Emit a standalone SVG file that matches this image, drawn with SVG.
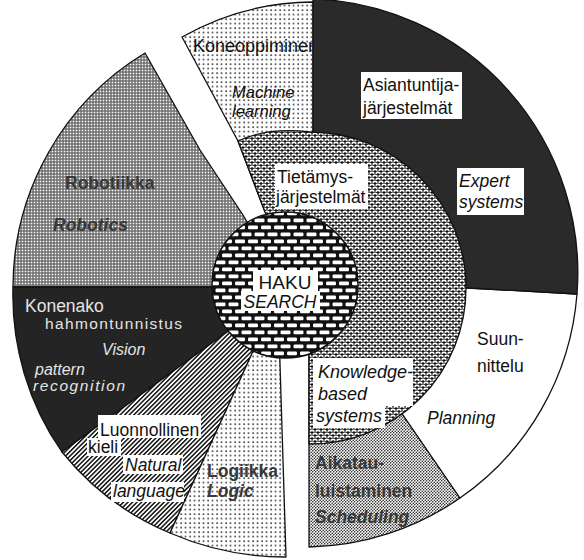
<svg xmlns="http://www.w3.org/2000/svg" width="584" height="560" viewBox="0 0 584 560">
<style>
.sec{stroke:#111;stroke-width:1.3;stroke-linejoin:round}
text{font-family:"Liberation Sans",Arial,Helvetica,sans-serif;font-size:17.5px;fill:#111}
.i{font-style:italic}
.w{fill:#e4e4e4}
.g{fill:#383838;font-weight:bold}
.box{fill:#fff}
</style>
<defs>
<pattern id="pDots" width="4.5" height="4.5" patternUnits="userSpaceOnUse">
<rect width="4.5" height="4.5" fill="#fff"/>
<circle cx="1.1" cy="1.1" r="0.85" fill="#222"/>
</pattern>
<pattern id="pSched" width="3" height="3" patternUnits="userSpaceOnUse">
<rect width="3" height="3" fill="#fff"/>
<circle cx="0.75" cy="0.75" r="0.78" fill="#222"/>
<circle cx="2.25" cy="2.25" r="0.78" fill="#222"/>
</pattern>
<pattern id="pRobo" width="3" height="3" patternUnits="userSpaceOnUse">
<rect width="3" height="3" fill="#6a6a6a"/>
<rect x="0.7" y="0.7" width="1.6" height="1.6" fill="#fff"/>
</pattern>
<pattern id="pHatch" width="3.2" height="3.2" patternUnits="userSpaceOnUse" patternTransform="rotate(45)">
<rect width="3.2" height="3.2" fill="#fff"/>
<rect width="1.5" height="3.2" fill="#111"/>
</pattern>
<pattern id="pScale" width="6" height="6" patternUnits="userSpaceOnUse">
<rect width="6" height="6" fill="#111"/>
<path d="M0.6,2.6 Q3,0.2 5.4,2.6 M-2.4,5.6 Q0,3.2 2.4,5.6 M3.6,5.6 Q6,3.2 8.4,5.6" fill="none" stroke="#fff" stroke-width="1.5"/>
</pattern>
<pattern id="pBrick" width="13" height="14" patternUnits="userSpaceOnUse">
<rect width="13" height="14" fill="#111"/>
<rect x="1" y="1.6" width="10" height="3.6" rx="1.2" fill="#fff"/>
<rect x="7.5" y="8.6" width="10" height="3.6" rx="1.2" fill="#fff"/>
<rect x="-5.5" y="8.6" width="10" height="3.6" rx="1.2" fill="#fff"/>
</pattern>
</defs>
<rect width="584" height="560" fill="#fff"/>

<g id="robotics">
<path class="sec" fill="url(#pRobo)" d="M145,53 A274,274 0 0 0 13,287 L285,287 L243,215 L200,150 Z"/>
<text class="g" x="65" y="189">Robotiikka</text>
<text class="g i" x="53" y="231">Robotics</text>
</g>

<g id="vision">
<path class="sec" fill="#242424" d="M13,287 A274,274 0 0 0 62,452 L285,290 L285,287 Z"/>
<text class="w" x="25" y="312">Konenako</text>
<text class="w" x="45" y="329" style="font-size:15.5px" textLength="137" lengthAdjust="spacing">hahmontunnistus</text>
<text class="w i" x="102" y="355" style="font-size:16px">Vision</text>
<text class="w i" x="35" y="375" style="font-size:16px">pattern</text>
<text class="w i" x="33" y="391" style="font-size:15.5px" textLength="92" lengthAdjust="spacing">recognition</text>
</g>

<g id="natural-language">
<path class="sec" fill="url(#pHatch)" d="M62,452 A274,274 0 0 0 170,533 L281,290 L285,290 Z"/>
<rect class="box" x="98" y="415" width="103" height="23"/>
<rect class="box" x="87" y="438" width="34" height="18"/>
<rect class="box" x="123" y="455" width="60" height="19"/>
<rect class="box" x="111" y="482" width="73" height="20"/>
<text x="100" y="436">Luonnollinen</text>
<text x="88" y="453">kieli</text>
<text class="i" x="125" y="471">Natural</text>
<text class="i" x="113" y="497">language</text>
</g>

<g id="logic">
<path class="sec" fill="url(#pDots)" d="M281,290 L170,533 A290,290 0 0 0 286,557 L278,300 Z"/>
<text class="g" x="207" y="477">Logiikka</text>
<text class="g i" x="207" y="497">Logic</text>
</g>

<g id="scheduling">
<path class="sec" fill="url(#pSched)" d="M309,547 A274,274 0 0 0 460,498 L324,300 L309,300 Z"/>
<text class="g" x="315" y="469">Aikatau-</text>
<text class="g" x="315" y="497">luistaminen</text>
<text class="g i" x="315" y="523">Scheduling</text>
</g>

<g id="planning">
<path class="sec" fill="#fff" d="M460,498 A274,274 0 0 0 577,294 L468,288 L330,286 L324,300 Z"/>
<text x="477" y="345">Suun-</text>
<text x="477" y="372">nittelu</text>
<text class="i" x="427" y="424">Planning</text>
</g>

<g id="machine-learning">
<path class="sec" fill="url(#pDots)" d="M313,2 A268,268 0 0 0 182,37 L238,141 L265,212 L313,260 Z"/>
<text x="193" y="52" style="font-size:18px">Koneoppiminen</text>
<text class="i" x="232" y="98" style="font-size:16.5px">Machine</text>
<text class="i" x="232" y="117" style="font-size:16.5px">learning</text>
</g>

<g id="expert-systems">
<path class="sec" fill="#2a2a2a" d="M577,294 A274,274 0 0 0 313,-1 L313,260 L330,286 L468,288 Z"/>
<rect class="box" x="361" y="72" width="101" height="47"/>
<text x="363" y="91">Asiantuntija-</text>
<text x="363" y="114">järjestelmät</text>
<rect class="box" x="457" y="168" width="67" height="47"/>
<text class="i" x="459" y="187">Expert</text>
<text class="i" x="459" y="208">systems</text>
</g>

<g id="knowledge-based">
<path class="sec" fill="url(#pScale)" d="M310,132 A156,156 0 0 1 310,444 L309,444 L309,290 L265,212 L238,141 Q268,127 310,132 Z"/>
<rect class="box" x="275" y="164" width="93" height="45"/>
<text x="277" y="183">Tietämys-</text>
<text x="276" y="203">järjestelmät</text>
<path class="box" d="M313,358 H413 V406 H385 V428 H313 Z"/>
<text class="i" x="318" y="378" style="font-size:18px">Knowledge-</text>
<text class="i" x="318" y="400" style="font-size:18px">based</text>
<text class="i" x="316" y="422" style="font-size:18px">systems</text>
</g>

<g id="search">
<circle cx="285" cy="285" r="73" fill="url(#pBrick)" stroke="#111" stroke-width="1.5"/>
<path class="box" d="M253,270 H318 V291 H320 V311 H241 V291 H253 Z"/>
<text x="285" y="289" text-anchor="middle" style="font-size:19px">HAKU</text>
<text class="i" x="280" y="308" text-anchor="middle">SEARCH</text>
</g>
</svg>
